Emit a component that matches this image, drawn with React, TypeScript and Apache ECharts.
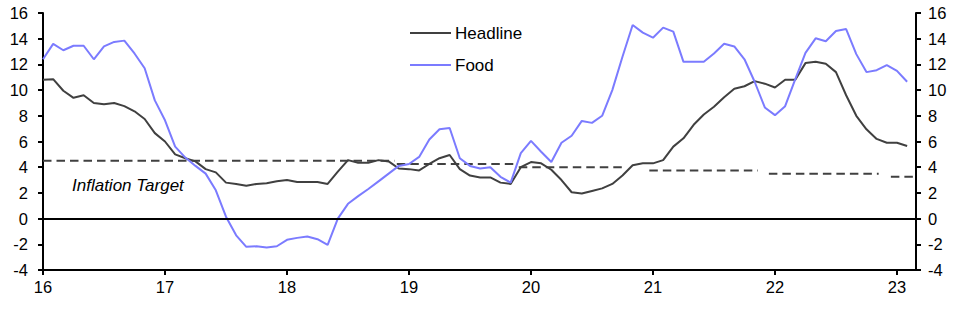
import React, { useEffect, useRef } from "react";
import * as echarts from "echarts";

// Monthly data, Jan 2016 (x = 16) to Feb 2023
const startYear = 16;
const headline = [
  10.8, 10.85, 9.95, 9.4, 9.6, 9.0, 8.9, 9.0, 8.75, 8.35, 7.75, 6.65, 6.0, 5.0, 4.7,
  4.45, 3.85, 3.6, 2.8, 2.7, 2.55, 2.7, 2.75, 2.9, 3.0, 2.85, 2.85, 2.85, 2.7, 3.65,
  4.55, 4.35, 4.35, 4.55, 4.45, 3.9, 3.85, 3.75, 4.25, 4.7, 4.95, 3.85, 3.35, 3.2, 3.2,
  2.8, 2.7, 4.0, 4.4, 4.3, 3.8, 3.0, 2.05, 1.95, 2.15, 2.35, 2.7, 3.35, 4.15, 4.3,
  4.3, 4.55, 5.6, 6.25, 7.3, 8.1, 8.7, 9.45, 10.1, 10.3, 10.7, 10.5, 10.2, 10.8, 10.8,
  12.1, 12.2, 12.05, 11.4, 9.6, 8.0, 6.95, 6.2, 5.9, 5.9, 5.65,
];
const food = [
  12.4, 13.6, 13.1, 13.45, 13.45, 12.4, 13.4, 13.75, 13.85, 12.85, 11.7, 9.2, 7.65, 5.6, 4.75,
  4.1, 3.5, 2.2, 0.15, -1.3, -2.2, -2.15, -2.25, -2.15, -1.65, -1.5, -1.4, -1.6, -2.05, 0.0,
  1.15, 1.75, 2.3, 2.9, 3.5, 4.1, 4.25, 4.8, 6.15, 6.95, 7.05, 4.7, 4.1, 3.9, 4.0,
  3.25, 2.8, 5.1, 6.05, 5.2, 4.4, 5.9, 6.45, 7.6, 7.45, 8.0, 10.0, 12.6, 15.07, 14.47,
  14.08, 14.86, 14.55, 12.2, 12.2, 12.2, 12.85, 13.6, 13.4, 12.4, 10.65, 8.65, 8.05, 8.75, 10.85,
  12.9, 14.03, 13.8, 14.6, 14.75, 12.8, 11.4, 11.55, 11.95, 11.5, 10.65,
];

// Inflation target segments
const targetStarts = [16, 18.9, 19.9, 20.97, 21.95, 22.95];
const targetEnds = [18.88, 19.89, 20.78, 21.86, 22.85, 23.156];
const targetValues = [4.5, 4.25, 4.0, 3.75, 3.5, 3.25];

const xTicks = [16, 17, 18, 19, 20, 21, 22, 23];
const xMin = 16;
const xMax = 23.156;
const yMin = -4;
const yMax = 16;
const yInterval = 2;

const FONT = "'Liberation Sans', Arial, sans-serif";
const HEAD_COLOR = "#404040";
const FOOD_COLOR = "#7b7bff";
const TICK_SIZE = 16.5;
const TEXT_SIZE = 17;

export default function App() {
  const ref = useRef<HTMLDivElement>(null);

  useEffect(() => {
    document.body.style.margin = "0";
    if (!ref.current) return;
    const chart = echarts.init(ref.current, undefined, { renderer: "svg" });

    const toXY = (arr: number[]) => arr.map((v, i) => [startYear + i / 12, v]);

    const targetSeries = targetValues.map((v, i) => ({
      name: "Target" + i,
      type: "line",
      data: [
        [targetStarts[i], v],
        [targetEnds[i], v],
      ],
      symbol: "none",
      silent: true,
      lineStyle: { color: HEAD_COLOR, width: 2, type: [8.5, 5] },
      z: 1,
    }));

    const yAxisBase = {
      type: "value",
      min: yMin,
      max: yMax,
      interval: yInterval,
      splitLine: { show: false },
      axisLine: { show: true, onZero: false, lineStyle: { color: "#000", width: 2 } },
      axisTick: { show: true, length: 5, lineStyle: { color: "#000", width: 2 } },
    };

    chart.setOption({
      animation: false,
      grid: { left: 43, right: 48, top: 13, bottom: 39, containLabel: false },
      legend: {
        data: ["Headline", "Food"],
        orient: "vertical",
        left: 410,
        top: 24.5,
        padding: 0,
        icon: "rect",
        itemWidth: 41,
        itemHeight: 2,
        itemGap: 15,
        textStyle: { fontFamily: FONT, fontSize: TEXT_SIZE, color: "#000", padding: [0, 0, 0, -1] },
        selectedMode: false,
      },
      xAxis: {
        type: "value",
        min: xMin,
        max: xMax,
        interval: 1,
        splitLine: { show: false },
        axisLine: { show: true, onZero: false, lineStyle: { color: "#000", width: 2 } },
        axisTick: { show: true, length: 5, customValues: xTicks, lineStyle: { color: "#000", width: 2 } },
        axisLabel: {
          customValues: xTicks,
          margin: 8,
          fontFamily: FONT,
          fontSize: TICK_SIZE,
          color: "#000",
          formatter: (v: number) => String(Math.round(v)),
        },
      },
      yAxis: [
        {
          ...yAxisBase,
          position: "left",
          axisLabel: { margin: 15, fontFamily: FONT, fontSize: TICK_SIZE, color: "#000" },
        },
        {
          ...yAxisBase,
          position: "right",
          axisLabel: { margin: 12, fontFamily: FONT, fontSize: TICK_SIZE, color: "#000" },
        },
      ],
      graphic: [
        {
          type: "text",
          left: 72,
          top: 177,
          style: {
            text: "Inflation Target",
            font: `italic ${TEXT_SIZE}px ${FONT}`,
            fill: "#000",
          },
        },
      ],
      series: [
        ...targetSeries,
        {
          name: "Headline",
          type: "line",
          data: toXY(headline),
          symbol: "none",
          lineStyle: { color: HEAD_COLOR, width: 2 },
          itemStyle: { color: HEAD_COLOR },
          z: 3,
          markLine: {
            silent: true,
            symbol: "none",
            label: { show: false },
            lineStyle: { color: "#000", width: 2, type: "solid" },
            data: [{ yAxis: 0 }],
          },
        },
        {
          name: "Food",
          type: "line",
          data: toXY(food),
          symbol: "none",
          lineStyle: { color: FOOD_COLOR, width: 2 },
          itemStyle: { color: FOOD_COLOR },
          z: 4,
        },
      ],
    });

    return () => chart.dispose();
  }, []);

  return <div ref={ref} style={{ width: 964, height: 309 }} />;
}
